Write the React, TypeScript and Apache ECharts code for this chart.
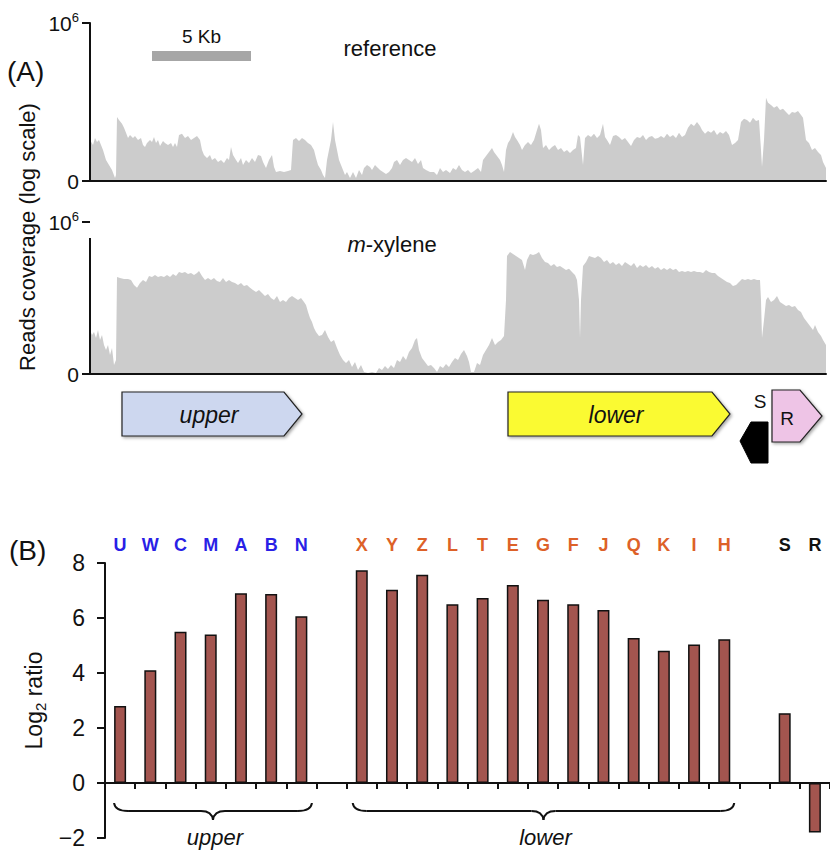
import React, { useEffect, useRef } from 'react';
import * as echarts from 'echarts';

// ---- Panel A: read coverage (position in Kb, log10 coverage) ----
const referenceCoverage: [number, number][] = [
  [0, 1.56], [0.15, 1.37], [0.25, 1.63], [0.35, 1.48], [0.45, 1.56], [0.55, 1.37], [0.65, 1.18], [0.8, 0.8], [0.95, 0.61], [1.1, 0.42],
  [1.25, 0.11], [1.3, 0.23], [1.35, 2.43], [1.45, 2.32], [1.6, 2.17], [1.7, 2.02], [1.8, 1.83], [1.9, 1.63], [2.0, 1.75], [2.15, 1.63],
  [2.25, 1.71], [2.4, 1.56], [2.55, 1.63], [2.65, 1.37], [2.75, 1.29], [2.85, 1.44], [3.0, 1.56], [3.1, 1.48], [3.2, 1.67], [3.3, 1.44],
  [3.4, 1.56], [3.5, 1.33], [3.65, 1.52], [3.75, 1.44], [3.9, 1.37], [4.05, 1.44], [4.15, 1.29], [4.25, 1.44], [4.35, 1.29], [4.45, 1.75],
  [4.6, 1.79], [4.75, 1.63], [4.9, 1.71], [5.05, 1.56], [5.2, 1.63], [5.35, 1.71], [5.5, 1.56], [5.6, 1.18], [5.7, 0.99], [5.85, 0.87],
  [6.0, 0.99], [6.1, 0.8], [6.25, 0.87], [6.4, 0.72], [6.55, 0.8], [6.7, 0.68], [6.85, 0.87], [6.95, 0.8], [7.05, 1.29], [7.15, 0.99],
  [7.3, 0.8], [7.4, 0.68], [7.55, 0.87], [7.65, 0.61], [7.8, 0.8], [7.95, 0.68], [8.1, 0.87], [8.25, 0.72], [8.4, 0.99], [8.55, 0.95],
  [8.65, 0.72], [8.8, 0.49], [8.95, 0.8], [9.1, 0.99], [9.2, 0.53], [9.3, 0.34], [9.5, 0.38], [9.7, 0.34], [9.9, 0.38], [10.05, 0.42],
  [10.15, 1.56], [10.3, 1.63], [10.45, 1.52], [10.6, 1.63], [10.75, 1.56], [10.9, 1.44], [11.05, 1.37], [11.2, 1.18], [11.3, 0.87], [11.4, 0.61],
  [11.55, 0.42], [11.65, 0.23], [11.75, 0.11], [11.85, 0.8], [11.95, 1.18], [12.05, 1.56], [12.15, 2.24], [12.25, 1.56], [12.35, 1.18], [12.45, 0.8],
  [12.55, 0.61], [12.65, 0.42], [12.75, 0.23], [12.85, 0.34], [13.0, 0.11], [13.15, 0.34], [13.3, 0.11], [13.45, 0.42], [13.6, 0.23], [13.7, 0.49],
  [13.85, 0.61], [14.0, 0.53], [14.1, 0.42], [14.25, 0.61], [14.4, 0.49], [14.5, 0.42], [14.65, 0.34], [14.8, 0.27], [14.95, 0.34], [15.1, 0.49],
  [15.2, 0.72], [15.35, 0.8], [15.5, 0.61], [15.65, 0.8], [15.8, 0.87], [15.95, 0.8], [16.1, 0.72], [16.25, 0.87], [16.4, 0.65], [16.55, 0.8],
  [16.65, 0.49], [16.8, 0.42], [17.0, 0.34], [17.2, 0.34], [17.35, 0.23], [17.5, 0.49], [17.65, 0.34], [17.8, 0.42], [18.0, 0.3], [18.15, 0.49],
  [18.3, 0.42], [18.45, 0.61], [18.6, 0.42], [18.75, 0.34], [18.9, 0.42], [19.05, 0.3], [19.2, 0.38], [19.4, 0.49], [19.55, 0.34], [19.65, 0.8],
  [19.8, 0.95], [19.95, 1.1], [20.1, 1.25], [20.2, 1.1], [20.35, 0.95], [20.5, 0.8], [20.6, 0.61], [20.7, 0.34], [20.8, 1.18], [20.9, 1.44],
  [21.0, 1.56], [21.15, 1.86], [21.25, 1.67], [21.35, 1.56], [21.5, 1.37], [21.6, 1.18], [21.75, 1.37], [21.9, 1.48], [22.05, 1.37], [22.2, 1.56],
  [22.35, 1.94], [22.45, 2.17], [22.55, 1.94], [22.65, 1.25], [22.8, 1.37], [22.95, 1.18], [23.1, 1.29], [23.25, 1.37], [23.4, 1.18], [23.55, 1.25],
  [23.7, 1.1], [23.85, 1.18], [24.0, 1.06], [24.15, 1.18], [24.3, 1.25], [24.4, 1.75], [24.5, 1.67], [24.65, 0.61], [24.75, 1.63], [24.9, 1.75],
  [25.05, 1.67], [25.2, 1.79], [25.35, 1.63], [25.5, 1.75], [25.65, 2.17], [25.75, 1.67], [25.85, 1.56], [26.0, 1.37], [26.15, 1.71], [26.3, 1.75],
  [26.45, 1.67], [26.6, 1.56], [26.75, 1.63], [26.9, 1.48], [27.05, 1.33], [27.2, 1.56], [27.35, 1.67], [27.5, 1.63], [27.65, 1.75], [27.8, 1.56],
  [27.95, 1.67], [28.1, 1.71], [28.25, 1.6], [28.4, 1.63], [28.55, 1.71], [28.7, 1.63], [28.85, 1.79], [29.0, 1.67], [29.15, 1.75], [29.3, 1.63],
  [29.45, 1.83], [29.6, 1.67], [29.75, 1.75], [29.9, 2.02], [30.05, 2.17], [30.2, 2.09], [30.35, 2.24], [30.5, 2.09], [30.6, 1.94], [30.75, 1.79],
  [30.9, 1.9], [31.05, 1.83], [31.2, 1.94], [31.35, 1.75], [31.5, 1.86], [31.65, 1.79], [31.8, 1.9], [31.95, 1.75], [32.1, 1.37], [32.25, 1.44],
  [32.4, 1.56], [32.55, 2.24], [32.7, 2.36], [32.85, 2.32], [33.0, 2.21], [33.15, 2.4], [33.3, 2.28], [33.45, 2.32], [33.55, 1.18], [33.6, 0.53],
  [33.7, 1.56], [33.8, 3.16], [33.9, 2.97], [34.05, 2.89], [34.2, 2.78], [34.35, 2.85], [34.5, 2.7], [34.65, 2.74], [34.8, 2.62], [34.95, 2.51],
  [35.1, 2.62], [35.25, 2.59], [35.4, 2.66], [35.55, 2.51], [35.65, 2.4], [35.8, 1.56], [35.95, 1.44], [36.1, 1.18], [36.25, 1.25], [36.4, 1.1],
  [36.55, 0.99], [36.65, 0.72], [36.8, 0.49],
];

const mXyleneCoverage: [number, number][] = [
  [0, 1.74], [0.1, 1.54], [0.2, 1.66], [0.3, 1.42], [0.4, 1.74], [0.5, 1.34], [0.6, 1.54], [0.7, 1.14], [0.8, 0.95], [0.9, 1.14],
  [1.0, 0.75], [1.1, 1.03], [1.2, 0.36], [1.3, 0.55], [1.35, 3.83], [1.5, 3.79], [1.7, 3.75], [1.9, 3.75], [2.05, 3.71], [2.2, 3.51],
  [2.35, 3.4], [2.5, 3.59], [2.65, 3.71], [2.8, 3.63], [2.95, 3.87], [3.1, 3.83], [3.25, 3.91], [3.4, 3.83], [3.55, 3.87], [3.7, 3.83],
  [3.85, 3.91], [4.0, 3.83], [4.15, 3.95], [4.3, 3.87], [4.45, 4.03], [4.6, 3.99], [4.75, 4.03], [4.9, 3.95], [5.05, 3.99], [5.2, 3.91],
  [5.35, 3.99], [5.45, 4.07], [5.6, 3.87], [5.75, 3.71], [5.9, 3.79], [6.05, 3.71], [6.2, 3.79], [6.35, 3.67], [6.5, 3.63], [6.65, 3.79],
  [6.8, 3.63], [6.95, 3.71], [7.1, 3.63], [7.25, 3.59], [7.4, 3.51], [7.55, 3.59], [7.7, 3.47], [7.85, 3.51], [8.0, 3.4], [8.15, 3.32],
  [8.3, 3.24], [8.45, 3.32], [8.6, 3.2], [8.75, 3.08], [8.9, 3.16], [9.05, 3.0], [9.2, 2.92], [9.35, 3.08], [9.5, 2.84], [9.65, 2.92],
  [9.8, 2.84], [9.95, 3.0], [10.1, 3.08], [10.25, 3.0], [10.4, 2.92], [10.55, 3.0], [10.7, 2.84], [10.8, 2.72], [10.9, 2.45], [11.0, 2.21],
  [11.1, 2.05], [11.2, 1.82], [11.3, 1.66], [11.45, 1.5], [11.6, 1.54], [11.75, 1.74], [11.9, 1.46], [12.05, 1.26], [12.2, 1.34], [12.35, 1.03],
  [12.5, 0.75], [12.65, 0.55], [12.8, 0.43], [12.95, 0.55], [13.1, 0.28], [13.25, 0.47], [13.4, 0.16], [13.55, 0.36], [13.7, 0.08], [13.9, 0.04],
  [14.1, 0.08], [14.3, 0.04], [14.45, 0.24], [14.6, 0.16], [14.75, 0.32], [14.9, 0.2], [15.05, 0.36], [15.2, 0.24], [15.35, 0.55], [15.5, 0.47],
  [15.65, 0.71], [15.8, 0.55], [15.95, 0.87], [16.1, 1.03], [16.25, 1.34], [16.35, 1.42], [16.45, 0.95], [16.6, 0.63], [16.75, 0.47], [16.9, 0.32],
  [17.05, 0.36], [17.2, 0.24], [17.35, 0.08], [17.5, 0.32], [17.65, 0.24], [17.8, 0.39], [17.95, 0.28], [18.1, 0.47], [18.25, 0.63], [18.4, 0.55],
  [18.55, 0.79], [18.7, 0.95], [18.85, 0.71], [18.95, 0.47], [19.05, 0.08], [19.2, 0.08], [19.35, 0.43], [19.5, 0.36], [19.65, 0.75], [19.8, 0.95],
  [19.95, 1.14], [20.1, 1.42], [20.25, 1.14], [20.4, 1.26], [20.55, 1.34], [20.7, 1.5], [20.8, 2.92], [20.85, 4.66], [21.0, 4.82], [21.15, 4.74],
  [21.3, 4.66], [21.45, 4.58], [21.6, 4.5], [21.75, 4.11], [21.85, 4.5], [22.0, 4.74], [22.15, 4.7], [22.3, 4.74], [22.45, 4.82], [22.6, 4.58],
  [22.75, 4.42], [22.9, 4.38], [23.05, 4.26], [23.2, 4.34], [23.35, 4.22], [23.5, 4.26], [23.65, 4.18], [23.8, 4.11], [23.95, 4.15], [24.1, 4.03],
  [24.25, 3.91], [24.35, 3.71], [24.45, 2.92], [24.5, 1.42], [24.55, 2.92], [24.65, 4.26], [24.8, 4.42], [24.95, 4.66], [25.1, 4.62], [25.25, 4.58],
  [25.4, 4.66], [25.55, 4.58], [25.7, 4.42], [25.85, 4.5], [26.0, 4.34], [26.15, 4.42], [26.3, 4.3], [26.45, 4.38], [26.6, 4.26], [26.75, 4.42],
  [26.9, 4.34], [27.05, 4.26], [27.2, 4.38], [27.35, 4.18], [27.5, 4.3], [27.65, 4.22], [27.8, 4.3], [27.95, 4.18], [28.1, 4.26], [28.25, 4.15],
  [28.4, 4.22], [28.55, 4.11], [28.7, 4.18], [28.85, 4.11], [29.0, 4.18], [29.15, 4.11], [29.3, 4.15], [29.45, 4.03], [29.6, 4.07], [29.75, 4.03],
  [29.9, 4.07], [30.05, 4.03], [30.2, 4.07], [30.35, 4.03], [30.5, 4.03], [30.65, 3.99], [30.8, 4.11], [30.95, 4.03], [31.1, 3.99], [31.25, 3.99],
  [31.4, 3.87], [31.55, 3.79], [31.7, 3.71], [31.85, 3.63], [32.0, 3.59], [32.15, 3.47], [32.3, 3.51], [32.45, 3.63], [32.6, 3.75], [32.75, 3.71],
  [32.9, 3.75], [33.05, 3.71], [33.2, 3.75], [33.35, 3.71], [33.5, 3.71], [33.55, 2.92], [33.6, 1.42], [33.7, 2.13], [33.8, 2.92], [33.9, 3.04],
  [34.05, 2.84], [34.2, 2.92], [34.35, 3.08], [34.5, 2.84], [34.65, 2.76], [34.8, 2.68], [34.95, 2.72], [35.1, 2.64], [35.25, 2.68], [35.4, 2.53],
  [35.55, 2.45], [35.7, 2.21], [35.85, 2.05], [36.0, 1.89], [36.15, 1.74], [36.25, 1.93], [36.4, 1.66], [36.55, 1.5], [36.65, 1.34], [36.8, 1.14],
];

const regionKbMax = 36.8;
const yTickLog = [0, 6];
const scaleBarKb: [number, number] = [3.1, 8.05];

// gene clusters along the region (Kb)
const geneArrows = [
  { name: 'upper', start: 1.6, end: 10.6, color: '#CDD7EF' },
  { name: 'lower', start: 20.9, end: 32.0, color: '#FAFA32' },
  { name: 'R', start: 34.1, end: 36.6, color: '#EEC4E6' },
];
const regulatorS = { name: 'S', start: 32.5, end: 33.9 };

// ---- Panel B: log2 ratios ----
const upperGenes = ['U', 'W', 'C', 'M', 'A', 'B', 'N'];
const upperRatios = [2.8, 4.1, 5.5, 5.4, 6.9, 6.87, 6.06];
const lowerGenes = ['X', 'Y', 'Z', 'L', 'T', 'E', 'G', 'F', 'J', 'Q', 'K', 'I', 'H'];
const lowerRatios = [7.74, 7.03, 7.57, 6.5, 6.73, 7.2, 6.66, 6.5, 6.29, 5.27, 4.81, 5.04, 5.23];
const regGenes = ['S', 'R'];
const regRatios = [2.54, -1.8];
const ratioTicks = [-2, 0, 2, 4, 6, 8];

const BLUE = '#2A1FE6';
const ORANGE = '#DD6128';
const INK = '#111111';
const FONT = '"Liberation Sans", Arial, Helvetica, sans-serif';

export default function App() {
  const ref = useRef<HTMLDivElement>(null);
  useEffect(() => {
    document.body.style.margin = '0';
    const chart = echarts.init(ref.current!, null, { renderer: 'svg' });

    const categories = [...upperGenes, ' ', ...lowerGenes, '  ', ...regGenes];
    const ratios = [...upperRatios, null, ...lowerRatios, null, ...regRatios];
    const labelColors = [
      ...upperGenes.map(() => BLUE), BLUE,
      ...lowerGenes.map(() => ORANGE), ORANGE,
      ...regGenes.map(() => INK),
    ];

    const logAxis = (grid: number, showLine: boolean) => ({
      gridIndex: grid,
      type: 'value',
      min: yTickLog[0],
      max: yTickLog[1],
      interval: yTickLog[1] - yTickLog[0],
      z: 5,
      axisLine: { show: showLine, onZero: false, lineStyle: { color: INK, width: 2 } },
      axisTick: { show: true, length: 8, lineStyle: { color: INK, width: 2 } },
      splitLine: { show: false },
      axisLabel: {
        margin: 11,
        formatter: (v: number) => (v === yTickLog[1] ? '{b|10}{s|6}' : '{b|0}'),
        rich: {
          b: { fontSize: 21, color: INK, fontFamily: FONT, lineHeight: 24 },
          s: { fontSize: 13, color: INK, fontFamily: FONT, lineHeight: 13, verticalAlign: 'top' },
        },
      },
    });

    const kbAxis = (grid: number) => ({
      gridIndex: grid,
      type: 'value',
      min: 0,
      max: regionKbMax,
      z: 5,
      axisLine: { show: true, onZero: false, lineStyle: { color: INK, width: 2 } },
      axisTick: { show: false },
      axisLabel: { show: false },
      splitLine: { show: false },
    });

    const areaSeries = (idx: number, data: [number, number][]) => ({
      type: 'line',
      xAxisIndex: idx,
      yAxisIndex: idx,
      data,
      symbol: 'none',
      showSymbol: false,
      silent: true,
      z: 1,
      lineStyle: { width: 0, opacity: 0 },
      areaStyle: { color: '#CCCCCC', opacity: 1 },
    });

    const option: any = {
      animation: false,
      backgroundColor: '#ffffff',
      textStyle: { fontFamily: FONT },
      grid: [
        { left: 90, top: 23, width: 736, height: 158 },
        { left: 90, top: 222, width: 736, height: 152 },
        { left: 105, top: 563, right: -11, height: 275 },
      ],
      xAxis: [
        kbAxis(0),
        kbAxis(1),
        {
          gridIndex: 2,
          type: 'category',
          data: categories,
          position: 'bottom',
          z: 5,
          axisLine: { show: true, onZero: true, lineStyle: { color: INK, width: 2 } },
          axisTick: { show: true, length: 6, interval: 0, lineStyle: { color: INK, width: 2 } },
          axisLabel: { show: false },
          splitLine: { show: false },
        },
        {
          gridIndex: 2,
          type: 'category',
          data: categories,
          position: 'top',
          axisLine: { show: false, onZero: false },
          axisTick: { show: false },
          splitLine: { show: false },
          axisLabel: {
            show: true,
            interval: 0,
            margin: 9,
            fontSize: 18,
            fontWeight: 'bold',
            fontFamily: FONT,
            color: (_v: any, i: number) => labelColors[i],
          },
        },
      ],
      yAxis: [
        logAxis(0, true),
        logAxis(1, false),
        {
          gridIndex: 2,
          type: 'value',
          min: ratioTicks[0],
          max: ratioTicks[ratioTicks.length - 1],
          interval: 2,
          z: 5,
          axisLine: { show: true, lineStyle: { color: INK, width: 2 } },
          axisTick: { show: true, length: 8, lineStyle: { color: INK, width: 2 } },
          splitLine: { show: false },
          axisLabel: {
            margin: 20,
            fontSize: 23,
            color: INK,
            fontFamily: FONT,
            formatter: (v: number) => (v < 0 ? '\u2212' + Math.abs(v) : String(v)),
          },
          name: '{a|Log}{s|2}{a| ratio}',
          nameLocation: 'middle',
          nameGap: 54,
          nameTextStyle: {
            rich: {
              a: { fontSize: 23, color: INK, fontFamily: FONT, lineHeight: 28 },
              s: { fontSize: 15, color: INK, fontFamily: FONT, lineHeight: 14, verticalAlign: 'bottom' },
            },
          },
        },
      ],
      series: [
        areaSeries(0, referenceCoverage),
        areaSeries(1, mXyleneCoverage),
        {
          type: 'bar',
          xAxisIndex: 2,
          yAxisIndex: 2,
          data: ratios,
          barWidth: 12,
          z: 2,
          itemStyle: { color: '#A3554F', borderColor: INK, borderWidth: 1.5 },
        },
      ],
    };
    chart.setOption(option);

    const kx = (kb: number) => chart.convertToPixel({ xAxisIndex: 0 }, kb) as number;
    const ly1 = (v: number) => chart.convertToPixel({ yAxisIndex: 1 }, v) as number;
    const cx = (i: number) => chart.convertToPixel({ xAxisIndex: 2 }, i) as number;
    const band = cx(1) - cx(0);

    const g: any[] = [];
    const txt = (x: number, y: number, text: string, fontSize: number, extra: any = {}) =>
      g.push({
        type: 'text', x, y, silent: true,
        style: { text, fontSize, fill: INK, fontFamily: FONT, align: 'center', verticalAlign: 'middle', ...extra },
      });

    // panel labels and titles
    txt(7, 71, '(A)', 28, { align: 'left' });
    txt(9, 550, '(B)', 28, { align: 'left' });
    txt(390, 48, 'reference', 22);
    g.push({
      type: 'text', x: 392, y: 244, silent: true,
      style: {
        text: '{i|m}{n|-xylene}', align: 'center', verticalAlign: 'middle',
        rich: {
          i: { fontSize: 22, fontStyle: 'italic', fill: INK, fontFamily: FONT },
          n: { fontSize: 22, fill: INK, fontFamily: FONT },
        },
      },
    });
    g.push({
      type: 'text', x: 27, y: 237, rotation: Math.PI / 2, silent: true,
      style: { text: 'Reads coverage (log scale)', fontSize: 22, fill: INK, fontFamily: FONT, align: 'center', verticalAlign: 'middle' },
    });

    // y-axis line of the m-xylene track (starts below the 10^6 tick, as in the figure)
    g.push({
      type: 'line', silent: true, z: 10,
      shape: { x1: kx(0), y1: ly1(5.37), x2: kx(0), y2: ly1(0) + 1 },
      style: { stroke: INK, lineWidth: 2 },
    });

    // scale bar
    const sb0 = kx(scaleBarKb[0]);
    const sb1 = kx(scaleBarKb[1]);
    g.push({ type: 'rect', silent: true, shape: { x: sb0, y: 51, width: sb1 - sb0, height: 10 }, style: { fill: '#A6A6A6' } });
    txt((sb0 + sb1) / 2, 36, '5 Kb', 19);

    // gene arrows
    const shadow = { shadowBlur: 3, shadowColor: 'rgba(0,0,0,0.35)', shadowOffsetX: 1.5, shadowOffsetY: 1.5 };
    geneArrows.forEach((ga) => {
      const x0 = kx(ga.start);
      const x1 = kx(ga.end);
      const isR = ga.name === 'R';
      const yt = isR ? 390 : 392;
      const yb = isR ? 442 : 436;
      const tip = isR ? 22 : 18;
      g.push({
        type: 'polygon', silent: true,
        shape: { points: [[x0, yt], [x1 - tip, yt], [x1, (yt + yb) / 2], [x1 - tip, yb], [x0, yb]] },
        style: { fill: ga.color, stroke: '#222', lineWidth: 1.2, ...shadow },
      });
      if (isR) txt(x0 + 15, 418, 'R', 19);
      else txt((x0 + x1) / 2 - 3, 415, ga.name, 23, { fontStyle: 'italic' });
    });
    {
      const x0 = kx(regulatorS.start);
      const x1 = kx(regulatorS.end);
      g.push({
        type: 'polygon', silent: true,
        shape: { points: [[x1, 422], [x0 + 11, 422], [x0, 441], [x0 + 11, 463], [x1, 463]] },
        style: { fill: '#000', stroke: '#000', lineWidth: 1 },
      });
      txt(760, 401, 'S', 19);
    }

    // braces under the bar groups
    const brace = (L: number, R: number, label: string) => {
      const C = (L + R) / 2;
      const yT = 803, yM = 811, yTip = 820;
      const st = { stroke: INK, lineWidth: 2, fill: 'none' };
      g.push({ type: 'bezierCurve', silent: true, shape: { x1: L, y1: yT, cpx1: L + 1, cpy1: yM, x2: L + 14, y2: yM }, style: st });
      g.push({ type: 'line', silent: true, shape: { x1: L + 14, y1: yM, x2: C - 12, y2: yM }, style: st });
      g.push({ type: 'bezierCurve', silent: true, shape: { x1: C - 12, y1: yM, cpx1: C - 1, cpy1: yM, x2: C, y2: yTip }, style: st });
      g.push({ type: 'bezierCurve', silent: true, shape: { x1: C + 12, y1: yM, cpx1: C + 1, cpy1: yM, x2: C, y2: yTip }, style: st });
      g.push({ type: 'line', silent: true, shape: { x1: C + 12, y1: yM, x2: R - 14, y2: yM }, style: st });
      g.push({ type: 'bezierCurve', silent: true, shape: { x1: R - 14, y1: yM, cpx1: R - 1, cpy1: yM, x2: R, y2: yT }, style: st });
      txt(C + 2, 837, label, 22, { fontStyle: 'italic' });
    };
    brace(cx(0) - band * 0.2, cx(upperGenes.length - 1) + band * 0.35, 'upper');
    const lx0 = upperGenes.length + 1;
    brace(cx(lx0) - band * 0.3, cx(lx0 + lowerGenes.length - 1) + band * 0.33, 'lower');

    chart.setOption({ graphic: g });

    return () => chart.dispose();
  }, []);
  return <div ref={ref} style={{ position: 'absolute', left: 0, top: 0, width: 830, height: 852 }} />;
}
